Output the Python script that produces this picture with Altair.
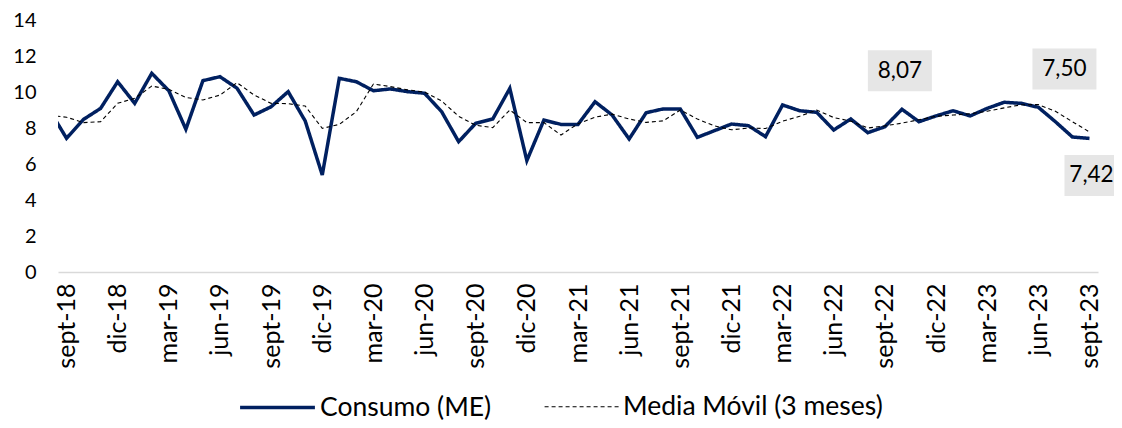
import altair as alt
import pandas as pd

# periods (first one, ago-18, lies just outside the visible axis range)
PERIODS = [
    "ago-18", "sept-18", "oct-18", "nov-18", "dic-18", "ene-19", "feb-19", "mar-19", "abr-19",
    "may-19", "jun-19", "jul-19", "ago-19", "sept-19", "oct-19", "nov-19", "dic-19",
    "ene-20", "feb-20", "mar-20", "abr-20", "may-20", "jun-20", "jul-20", "ago-20",
    "sept-20", "oct-20", "nov-20", "dic-20", "ene-21", "feb-21", "mar-21", "abr-21",
    "may-21", "jun-21", "jul-21", "ago-21", "sept-21", "oct-21", "nov-21", "dic-21",
    "ene-22", "feb-22", "mar-22", "abr-22", "may-22", "jun-22", "jul-22", "ago-22",
    "sept-22", "oct-22", "nov-22", "dic-22", "ene-23", "feb-23", "mar-23", "abr-23",
    "may-23", "jun-23", "jul-23", "ago-23", "sept-23",
]

CONSUMO = [
    9.0, 7.43, 8.48, 9.09, 10.57, 9.37, 11.04, 10.07, 7.93, 10.63, 10.85, 10.21,
    8.72, 9.18, 10.02, 8.39, 5.39, 10.76, 10.57, 10.07, 10.17, 10.02, 9.93, 8.91,
    7.24, 8.26, 8.5, 10.2, 6.19, 8.44, 8.2, 8.2, 9.46, 8.72, 7.39, 8.85, 9.06,
    9.06, 7.48, 7.85, 8.22, 8.13, 7.52, 9.28, 8.96, 8.87, 7.89, 8.5, 7.74, 8.07,
    9.04, 8.35, 8.67, 8.96, 8.67, 9.09, 9.43, 9.37, 9.15, 8.35, 7.50, 7.42,
]

MEDIA_MOVIL = [
    8.7, 8.6, 8.3, 8.35, 9.37, 9.65, 10.33, 10.15, 9.7, 9.56, 9.83, 10.52, 9.83,
    9.37, 9.35, 9.22, 7.98, 8.2, 8.91, 10.44, 10.3, 10.12, 10.0, 9.5, 8.65, 8.15,
    8.02, 9.0, 8.3, 8.3, 7.61, 8.24, 8.6, 8.77, 8.5, 8.31, 8.4, 9.0, 8.5, 8.12,
    7.9, 8.0, 7.97, 8.38, 8.65, 9.0, 8.58, 8.38, 8.0, 8.12, 8.27, 8.46, 8.65,
    8.72, 8.79, 8.93, 9.12, 9.29, 9.3, 8.93, 8.35, 7.78,
]

TICK_LABELS = [
    "sept-18", "dic-18", "mar-19", "jun-19", "sept-19", "dic-19", "mar-20", "jun-20",
    "sept-20", "dic-20", "mar-21", "jun-21", "sept-21", "dic-21", "mar-22", "jun-22",
    "sept-22", "dic-22", "mar-23", "jun-23", "sept-23",
]

Y_TICKS = [0, 2, 4, 6, 8, 10, 12, 14]

SERIES = ["Consumo (ME)", "Media Móvil (3 meses)"]

ANNOT_PERIODS = ["sept-22", "ago-23", "sept-23"]
ANNOT_TEXT = ["8,07", "7,50", "7,42"]
ANNOT_VALUES = [8.07, 7.50, 7.42]

FONT = "Lato"
NAVY = "#002060"

# ---- tables ----
rows = []
for i, p in enumerate(PERIODS):
    rows.append({"periodo": p, "idx": i - 1, "serie": SERIES[0], "valor": CONSUMO[i]})
    rows.append({"periodo": p, "idx": i - 1, "serie": SERIES[1], "valor": MEDIA_MOVIL[i]})
df = pd.DataFrame(rows)

ann = pd.DataFrame({
    "periodo": ANNOT_PERIODS,
    "idx": [PERIODS.index(p) - 1 for p in ANNOT_PERIODS],
    "texto": ANNOT_TEXT,
    "valor": ANNOT_VALUES,
})

visible = PERIODS[1:]
tick_vals = [visible.index(t) for t in TICK_LABELS]
js_arr = "[" + ",".join("'" + s + "'" for s in visible) + "]"

x_enc = alt.X(
    "idx:Q",
    scale=alt.Scale(domain=[-0.5, len(visible) - 0.5], nice=False, zero=False),
    axis=alt.Axis(
        values=tick_vals,
        labelExpr=js_arr + "[datum.value]",
        labelAngle=270,
        labelAlign="right",
        labelBaseline="middle",
        labelPadding=11,
        ticks=False,
        grid=False,
        domainColor="#D9D9D9",
        domainWidth=1.5,
        labelFont=FONT,
        labelFontSize=25,
        labelColor="#000000",
        title=None,
        labelOverlap=False,
    ),
)
y_enc = alt.Y(
    "valor:Q",
    scale=alt.Scale(domain=[0, 14], nice=False),
    axis=alt.Axis(
        values=Y_TICKS,
        domain=False,
        ticks=False,
        grid=False,
        labelPadding=22,
        labelFont=FONT,
        labelFontSize=20,
        labelColor="#000000",
        labelOverlap=False,
        labelFlush=False,
        labelBound=False,
        title=None,
    ),
)

legend_kw = dict(
    title=None,
    orient="none",
    legendX=180,
    legendY=348,
    direction="horizontal",
    symbolType="stroke",
    symbolSize=5600,
    labelFont=FONT,
    labelFontSize=26.5,
    labelColor="#000000",
    labelLimit=0,
    labelOffset=3,
    columnPadding=50,
    padding=0,
)

lines = alt.Chart(df).mark_line(clip=True).encode(
    x=x_enc,
    y=y_enc,
    color=alt.Color(
        "serie:N",
        scale=alt.Scale(domain=SERIES, range=[NAVY, "#000000"]),
        legend=alt.Legend(**legend_kw),
    ),
    strokeDash=alt.StrokeDash(
        "serie:N",
        scale=alt.Scale(domain=SERIES, range=[[1, 0], [4, 3]]),
        legend=alt.Legend(**legend_kw),
    ),
    strokeWidth=alt.StrokeWidth(
        "serie:N",
        scale=alt.Scale(domain=SERIES, range=[3.5, 1.1]),
        legend=alt.Legend(**legend_kw),
    ),
    order=alt.Order("idx:Q"),
)

BOX = "M-1,-0.64L1,-0.64L1,0.64L-1,0.64Z"
offsets = {"8,07": (15, -56, 15), "7,50": (-8, -68, -8), "7,42": (7, 37, 2)}

ann_layers = []
for t, (dx, dy, tdx) in offsets.items():
    base = alt.Chart(ann).transform_filter(alt.datum.texto == t)
    box = base.mark_point(shape=BOX, size=4096, filled=True, color="#E6E6E6",
                          opacity=1, xOffset=dx, yOffset=dy).encode(
        x=x_enc, y=y_enc)
    txt = base.mark_text(font=FONT, fontSize=22.5, color="#000000", dx=tdx, dy=dy,
                         align="center", baseline="middle").encode(
        x=x_enc, y=y_enc, text="texto:N")
    ann_layers += [box, txt]

chart = alt.layer(lines, *ann_layers).properties(
    width=1040,
    height=252,
    autosize=alt.AutoSizeParams(type="none"),
    padding={"left": 50, "top": 12, "right": 16, "bottom": 148},
).configure_view(stroke=None)

chart.save("out.html", embed_options={"renderer": "svg", "actions": False})
